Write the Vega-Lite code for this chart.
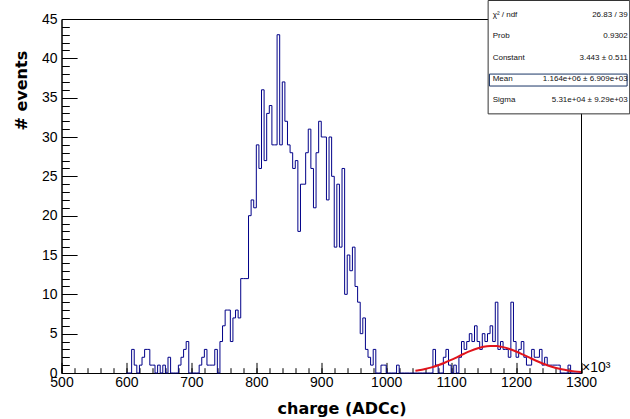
{
  "$schema": "https://vega.github.io/schema/vega-lite/v6.json",
  "autosize": "none",
  "width": 519.5,
  "height": 354,
  "padding": {"left": 61.5, "top": 19, "right": 49, "bottom": 46},
  "background": "white",
  "config": {
    "view": {"stroke": "black", "strokeWidth": 1},
    "axis": {"grid": false, "tickColor": "black", "domainColor": "black", "labelColor": "black", "titleColor": "black", "labelFont": "Liberation Sans", "labelFlush": false, "labelOverlap": false, "labelBound": false}
  },
  "datasets": {
    "hist": [
      {"charge":600,"events":0},{"charge":604,"events":0},{"charge":608,"events":3},{"charge":612,"events":1},{"charge":616,"events":0},{"charge":620,"events":1},{"charge":624,"events":2},{"charge":628,"events":3},{"charge":632,"events":3},{"charge":636,"events":1},{"charge":640,"events":1},{"charge":644,"events":0},{"charge":648,"events":1},{"charge":652,"events":0},{"charge":656,"events":1},{"charge":660,"events":0},{"charge":664,"events":2},{"charge":668,"events":0},{"charge":672,"events":0},{"charge":676,"events":0},{"charge":680,"events":1},{"charge":684,"events":2},{"charge":688,"events":3},{"charge":692,"events":4},{"charge":696,"events":0},{"charge":700,"events":0},{"charge":704,"events":0},{"charge":708,"events":0},{"charge":712,"events":1},{"charge":716,"events":2},{"charge":720,"events":3},{"charge":724,"events":1},{"charge":728,"events":1},{"charge":732,"events":1},{"charge":736,"events":3},{"charge":740,"events":0},{"charge":744,"events":4},{"charge":748,"events":6},{"charge":752,"events":8},{"charge":756,"events":8},{"charge":760,"events":4},{"charge":764,"events":7},{"charge":768,"events":8},{"charge":772,"events":7},{"charge":776,"events":12},{"charge":780,"events":12},{"charge":784,"events":12},{"charge":788,"events":20},{"charge":792,"events":22},{"charge":796,"events":21},{"charge":800,"events":29},{"charge":804,"events":26},{"charge":808,"events":36},{"charge":812,"events":27},{"charge":816,"events":33},{"charge":820,"events":34},{"charge":824,"events":29},{"charge":828,"events":29},{"charge":832,"events":43},{"charge":836,"events":29},{"charge":840,"events":37},{"charge":844,"events":32},{"charge":848,"events":29},{"charge":852,"events":28},{"charge":856,"events":26},{"charge":860,"events":27},{"charge":864,"events":18},{"charge":868,"events":24},{"charge":872,"events":24},{"charge":876,"events":28},{"charge":880,"events":31},{"charge":884,"events":26},{"charge":888,"events":21},{"charge":892,"events":28},{"charge":896,"events":32},{"charge":900,"events":30},{"charge":904,"events":30},{"charge":908,"events":22},{"charge":912,"events":30},{"charge":916,"events":25},{"charge":920,"events":16},{"charge":924,"events":24},{"charge":928,"events":16},{"charge":932,"events":26},{"charge":936,"events":10},{"charge":940,"events":15},{"charge":944,"events":13},{"charge":948,"events":16},{"charge":952,"events":11},{"charge":956,"events":9},{"charge":960,"events":5},{"charge":964,"events":7},{"charge":968,"events":3},{"charge":972,"events":2},{"charge":976,"events":1},{"charge":980,"events":3},{"charge":984,"events":0},{"charge":988,"events":0},{"charge":992,"events":1},{"charge":996,"events":1},{"charge":1000,"events":0},{"charge":1004,"events":0},{"charge":1008,"events":0},{"charge":1012,"events":0},{"charge":1016,"events":1},{"charge":1020,"events":0},{"charge":1024,"events":0},{"charge":1028,"events":0},{"charge":1032,"events":0},{"charge":1036,"events":0},{"charge":1040,"events":0},{"charge":1044,"events":0},{"charge":1048,"events":0},{"charge":1052,"events":0},{"charge":1056,"events":0},{"charge":1060,"events":0},{"charge":1064,"events":0},{"charge":1068,"events":0},{"charge":1072,"events":3},{"charge":1076,"events":1},{"charge":1080,"events":0},{"charge":1084,"events":0},{"charge":1088,"events":2},{"charge":1092,"events":3},{"charge":1096,"events":1},{"charge":1100,"events":0},{"charge":1104,"events":1},{"charge":1108,"events":0},{"charge":1112,"events":2},{"charge":1116,"events":4},{"charge":1120,"events":3},{"charge":1124,"events":4},{"charge":1128,"events":5},{"charge":1132,"events":4},{"charge":1136,"events":6},{"charge":1140,"events":4},{"charge":1144,"events":3},{"charge":1148,"events":5},{"charge":1152,"events":4},{"charge":1156,"events":5},{"charge":1160,"events":6},{"charge":1164,"events":4},{"charge":1168,"events":9},{"charge":1172,"events":3},{"charge":1176,"events":4},{"charge":1180,"events":3},{"charge":1184,"events":3},{"charge":1188,"events":2},{"charge":1192,"events":9},{"charge":1196,"events":4},{"charge":1200,"events":2},{"charge":1204,"events":3},{"charge":1208,"events":4},{"charge":1212,"events":2},{"charge":1216,"events":1},{"charge":1220,"events":1},{"charge":1224,"events":3},{"charge":1228,"events":2},{"charge":1232,"events":2},{"charge":1236,"events":3},{"charge":1240,"events":1},{"charge":1244,"events":2},{"charge":1248,"events":1},{"charge":1252,"events":1},{"charge":1256,"events":1},{"charge":1260,"events":1},{"charge":1264,"events":1},{"charge":1268,"events":0},{"charge":1272,"events":0},{"charge":1276,"events":0},{"charge":1280,"events":1},{"charge":1284,"events":0},{"charge":1288,"events":0},{"charge":1292,"events":0},{"charge":1296,"events":0},{"charge":1300,"events":0}
    ],
    "fit": [
      {"charge":1045,"events":0.280},{"charge":1050,"events":0.344},{"charge":1060,"events":0.506},{"charge":1070,"events":0.718},{"charge":1080,"events":0.985},{"charge":1090,"events":1.304},{"charge":1100,"events":1.665},{"charge":1110,"events":2.053},{"charge":1120,"events":2.443},{"charge":1130,"events":2.805},{"charge":1140,"events":3.108},{"charge":1150,"events":3.325},{"charge":1160,"events":3.433},{"charge":1164,"events":3.443},{"charge":1170,"events":3.421},{"charge":1180,"events":3.290},{"charge":1190,"events":3.054},{"charge":1200,"events":2.736},{"charge":1210,"events":2.366},{"charge":1220,"events":1.975},{"charge":1230,"events":1.590},{"charge":1240,"events":1.236},{"charge":1250,"events":0.928},{"charge":1260,"events":0.672},{"charge":1270,"events":0.469},{"charge":1280,"events":0.317},{"charge":1290,"events":0.206},{"charge":1300,"events":0.130}
    ],
    "stats": [
      {"label":"χ² / ndf","value":"26.83 / 39"},
      {"label":"Prob","value":"0.9302"},
      {"label":"Constant","value":"3.443 ± 0.511"},
      {"label":"Mean","value":"1.164e+06 ± 6.909e+03"},
      {"label":"Sigma","value":"5.31e+04 ± 9.29e+03"}
    ],
    "one": [{"note": "annotation"}]
  },
  "layer": [
    {
      "layer": [
        {
          "data": {"name": "hist"},
          "mark": {"type": "line", "interpolate": "step-after", "color": "#000088", "strokeWidth": 1},
          "encoding": {
            "x": {"field": "charge", "type": "quantitative", "scale": {"domain": [500, 1300], "nice": false, "zero": false},
              "axis": {"orient": "bottom", "values": [500,600,700,800,900,1000,1100,1200,1300], "format": "d", "tickSize": -10.6, "tickWidth": 1, "domainWidth": 1, "labelFontSize": 14, "labelPadding": 12.6, "labelBaseline": "top",
                "title": "charge (ADCc)", "titleFont": "DejaVu Sans", "titleFontWeight": "bold", "titleFontSize": 16, "titleX": 280, "titleY": 35, "titleAlign": "center", "titleBaseline": "middle", "titleAngle": 0}},
            "y": {"field": "events", "type": "quantitative", "scale": {"domain": [0, 45], "nice": false},
              "axis": {"orient": "left", "values": [0,5,10,15,20,25,30,35,40,45], "tickSize": -15.6, "tickWidth": 1, "domainWidth": 1, "labelFontSize": 14, "labelPadding": 20.1,
                "title": "# events", "titleFont": "DejaVu Sans", "titleFontWeight": "bold", "titleFontSize": 16, "titleX": -40, "titleY": 111, "titleAlign": "left", "titleBaseline": "middle", "titleAngle": -90}}
          }
        },
        {
          "data": {"name": "fit"},
          "mark": {"type": "line", "interpolate": "monotone", "color": "#e0141c", "strokeWidth": 2},
          "encoding": {
            "x": {"field": "charge", "type": "quantitative", "scale": {"domain": [500, 1300], "nice": false, "zero": false},
              "axis": {"orient": "bottom", "values": [500,520,540,560,580,600,620,640,660,680,700,720,740,760,780,800,820,840,860,880,900,920,940,960,980,1000,1020,1040,1060,1080,1100,1120,1140,1160,1180,1200,1220,1240,1260,1280,1300], "tickSize": -5.3, "tickWidth": 1, "labels": false, "domain": false, "title": null}},
            "y": {"field": "events", "type": "quantitative", "scale": {"domain": [0, 45], "nice": false},
              "axis": {"orient": "left", "values": [0,1,2,3,4,5,6,7,8,9,10,11,12,13,14,15,16,17,18,19,20,21,22,23,24,25,26,27,28,29,30,31,32,33,34,35,36,37,38,39,40,41,42,43,44,45], "tickSize": -7.8, "tickWidth": 1, "labels": false, "domain": false, "title": null}}
          }
        },
        {
          "data": {"name": "one"},
          "mark": {"type": "text", "text": "×10³", "align": "left", "baseline": "alphabetic", "dx": 1, "dy": -1, "font": "Liberation Sans", "fontSize": 14, "color": "black"},
          "encoding": {
            "x": {"datum": 1300, "type": "quantitative", "axis": null},
            "y": {"datum": 0, "type": "quantitative", "axis": null}
          }
        },
        {
          "data": {"name": "one"},
          "mark": {"type": "rect", "fill": "white", "stroke": "#333333", "strokeWidth": 1},
          "encoding": {
            "x": {"datum": 1157, "type": "quantitative", "axis": null},
            "x2": {"datum": 1375},
            "y": {"datum": 32.94, "type": "quantitative", "axis": null},
            "y2": {"datum": 47.35}
          }
        },
        {
          "data": {"name": "one"},
          "mark": {"type": "rect", "fill": "white", "stroke": "#1a3566", "strokeWidth": 1},
          "encoding": {
            "x": {"datum": 1159, "type": "quantitative", "axis": null},
            "x2": {"datum": 1371},
            "y": {"datum": 36.48, "type": "quantitative", "axis": null},
            "y2": {"datum": 38.0}
          }
        }
      ],
      "resolve": {"axis": {"x": "independent", "y": "independent"}}
    },
    {
      "data": {"name": "stats"},
      "encoding": {
        "y": {"field": "label", "type": "nominal", "sort": null, "axis": null,
          "scale": {"type": "point", "domain": ["χ² / ndf", "Prob", "Constant", "Mean", "Sigma"], "range": [-4, 81], "padding": 0}}
      },
      "layer": [
        {
          "mark": {"type": "text", "align": "left", "baseline": "middle", "font": "Liberation Sans", "fontSize": 8, "color": "#111111"},
          "encoding": {
            "x": {"datum": 1164, "type": "quantitative", "axis": null},
            "text": {"field": "label"}
          }
        },
        {
          "mark": {"type": "text", "align": "right", "baseline": "middle", "font": "Liberation Sans", "fontSize": 8, "color": "#111111"},
          "encoding": {
            "x": {"datum": 1372, "type": "quantitative", "axis": null},
            "text": {"field": "value"}
          }
        }
      ]
    }
  ],
  "resolve": {"scale": {"y": "independent"}, "axis": {"x": "independent", "y": "independent"}}
}
